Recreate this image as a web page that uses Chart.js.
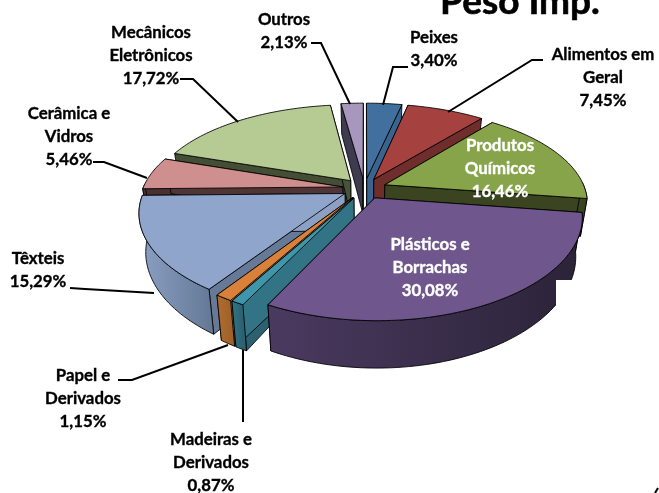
<!DOCTYPE html>
<html lang="pt">
<head>
    <meta charset="UTF-8">
    <title>Peso Imp.</title>
    <script src="https://cdnjs.cloudflare.com/ajax/libs/Chart.js/4.4.1/chart.umd.min.js"></script>
    <style>
        html, body { margin: 0; padding: 0; background: #fff; overflow: hidden; }
        #wrap { position: relative; width: 659px; height: 493px; }
    </style>
</head>
<body>
    <div id="wrap"><canvas id="chart" width="659" height="493"></canvas></div>
    <script>
        // Data
        const titleText = 'Peso Imp.';
        const categories = ['Peixes', 'Alimentos em Geral', 'Produtos Químicos', 'Plásticos e Borrachas', 'Madeiras e Derivados', 'Papel e Derivados', 'Têxteis', 'Cerâmica e Vidros', 'Mecânicos Eletrônicos', 'Outros'];
        const values = [3.40, 7.45, 16.46, 30.08, 0.87, 1.15, 15.29, 5.46, 17.72, 2.13];
        const valueLabels = ['3,40%', '7,45%', '16,46%', '30,08%', '0,87%', '1,15%', '15,29%', '5,46%', '17,72%', '2,13%'];
        const labelLines = [['Peixes'], ['Alimentos em', 'Geral'], ['Produtos', 'Químicos'], ['Plásticos e', 'Borrachas'], ['Madeiras e', 'Derivados'], ['Papel e', 'Derivados'], ['Têxteis'], ['Cerâmica e', 'Vidros'], ['Mecânicos', 'Eletrônicos'], ['Outros']];

        // Styles
        const topColors = ['#41709f', '#a5423f', '#87a44b', '#6f568c', '#3f96ab', '#d9803a', '#8fa5cc', '#ce8f8e', '#b6cb93', '#a797bc'];
        const wallLight = ['#3a6490', '#6f2e2c', '#3a4421', '#4a3a60', '#327486', '#b06c30', '#8ba0c4', '#4f3535', '#48543a', '#4a4560'];
        const wallDark = ['#30527a', '#5e2624', '#333c1c', '#2b2338', '#2b6170', '#a0622b', '#667a98', '#4a3030', '#434e35', '#3e3a50'];
        const labelColors = ['#000', '#000', '#fff', '#fff', '#000', '#000', '#000', '#000', '#000', '#000'];
        const labelCentres = [[434, 38], [603, 55], [500, 146], [430, 245], [211, 440], [83, 376], [38, 259], [69, 114], [151, 33], [284, 20]];
        const leaders = [
            [[408, 67], [393, 67], [383, 105]],
            [[543, 60], [532, 60], [448, 112]],
            null,
            null,
            [[243, 422], [243, 350]],
            [[118, 380], [132, 380], [228, 345]],
            [[70, 288], [85, 289], [154, 293]],
            [[93, 162], [104, 162], [147, 178]],
            [[180, 79], [193, 79], [238, 122]],
            [[311, 43], [321, 43], [350, 104]]
        ];

        const tiltY = 0.47;      // flattening of the disc
        const perspX = 0.18;     // perspective strength, across
        const perspY = 0.2;      // perspective strength, in depth
        const depth = 37;        // pie thickness
        const bottomScale = 0.97;

        const pie3d = {
            id: 'pie3d',
            // replace the flat arcs with perspective ones, built from the arcs' own angles
            beforeDatasetDraw(chart, args) {
                const ctx = chart.ctx;
                const arcs = args.meta.data;
                const order = arcs.map((a, i) => i).sort((i, j) => midSin(arcs[i]) - midSin(arcs[j]));
                order.forEach(i => drawSlice(ctx, arcs[i], i));
                return false;
            },
            afterDraw(chart) {
                drawTexts(chart.ctx);
            }
        };

        function midSin(arc) {
            return Math.sin((arc.startAngle + arc.endAngle) / 2);
        }

        // plane point -> screen, optionally on the bottom face
        function project(arc, px, py, bottom) {
            const R = arc.outerRadius;
            const wx = 1 - perspX * py / R;
            const wy = 1 - perspY * py / R;
            const s = bottom ? bottomScale : 1;
            return [arc.x + s * px / wx, arc.y + (tiltY * py + (bottom ? depth : 0)) / wy];
        }

        function rimPoints(arc) {
            const mid = (arc.startAngle + arc.endAngle) / 2;
            const off = arc.options.offset;
            const ox = Math.cos(mid) * off, oy = Math.sin(mid) * off;
            const rim = [], front = [];
            const steps = Math.max(4, Math.ceil((arc.endAngle - arc.startAngle) * 40));
            for (let s = 0; s <= steps; s++) {
                const a = arc.startAngle + (arc.endAngle - arc.startAngle) * s / steps;
                const p = [ox + Math.cos(a) * arc.outerRadius, oy + Math.sin(a) * arc.outerRadius];
                rim.push(p);
                if (Math.sin(a) > -0.05) front.push(p);
            }
            return { apex: [ox, oy], rim, front };
        }

        function poly(ctx, pts, fill) {
            ctx.beginPath();
            pts.forEach((p, n) => n ? ctx.lineTo(p[0], p[1]) : ctx.moveTo(p[0], p[1]));
            ctx.closePath();
            ctx.fillStyle = fill;
            ctx.fill();
            ctx.stroke();
        }

        function drawSlice(ctx, arc, i) {
            const { apex, rim, front } = rimPoints(arc);
            const P = (p, b) => project(arc, p[0], p[1], b);
            ctx.save();
            ctx.lineWidth = 1;
            ctx.strokeStyle = 'rgba(0,0,0,0.85)';
            ctx.lineJoin = 'round';

            // the two cut walls
            const first = rim[0], last = rim[rim.length - 1];
            poly(ctx, [P(apex), P(first), P(first, true), P(apex, true)], wallDark[i]);
            poly(ctx, [P(apex), P(last), P(last, true), P(apex, true)], wallLight[i]);

            // outer wall, only the part that faces the viewer
            if (front.length > 1) {
                const topRim = front.map(p => P(p));
                const botRim = front.map(p => P(p, true)).reverse();
                const xs = topRim.map(p => p[0]);
                const grad = ctx.createLinearGradient(Math.min(...xs), 0, Math.max(...xs), 0);
                grad.addColorStop(0, wallLight[i]);
                grad.addColorStop(1, wallDark[i]);
                poly(ctx, topRim.concat(botRim), grad);
            }

            // top face
            poly(ctx, [P(apex)].concat(rim.map(p => P(p))), arc.options.backgroundColor);
            ctx.restore();
        }

        function drawTexts(ctx) {
            ctx.save();
            // white patch over the wall, as in the source image
            ctx.fillStyle = '#fff';
            ctx.fillRect(556, 280, 50, 40);

            // leader lines
            ctx.strokeStyle = '#000';
            ctx.lineWidth = 2;
            leaders.forEach(line => {
                if (!line) return;
                ctx.beginPath();
                line.forEach((p, n) => n ? ctx.lineTo(p[0], p[1]) : ctx.moveTo(p[0], p[1]));
                ctx.stroke();
            });
            // stray mark in the bottom corner
            ctx.beginPath();
            ctx.moveTo(655, 493);
            ctx.lineTo(658, 488);
            ctx.stroke();

            ctx.textAlign = 'center';
            ctx.textBaseline = 'middle';
            ctx.font = 'bold 16.8px Lato';
            ctx.lineWidth = 0.35;
            categories.forEach((c, i) => {
                const lines = labelLines[i].concat(valueLabels[i]);
                ctx.fillStyle = labelColors[i];
                ctx.strokeStyle = labelColors[i];
                lines.forEach((t, n) => {
                    ctx.fillText(t, labelCentres[i][0], labelCentres[i][1] + n * 22.8);
                    ctx.strokeText(t, labelCentres[i][0], labelCentres[i][1] + n * 22.8);
                });
            });

            ctx.textBaseline = 'alphabetic';
            ctx.font = 'bold 37px Lato';
            ctx.fillStyle = '#000';
            ctx.strokeStyle = '#000';
            ctx.lineWidth = 0.6;
            ctx.fillText(titleText, 520, 14);
            ctx.strokeText(titleText, 520, 14);
            ctx.restore();
        }

        new Chart(document.getElementById('chart'), {
            type: 'pie',
            data: {
                labels: categories,
                datasets: [{
                    data: values,
                    backgroundColor: topColors,
                    offset: 22,
                    borderWidth: 0,
                    radius: 200
                }]
            },
            options: {
                responsive: false,
                animation: false,
                layout: { padding: { left: 70, right: 0, top: 0, bottom: 116 } },
                plugins: {
                    legend: { display: false },
                    tooltip: { enabled: false }
                }
            },
            plugins: [pie3d]
        });
    </script>
</body>
</html>
